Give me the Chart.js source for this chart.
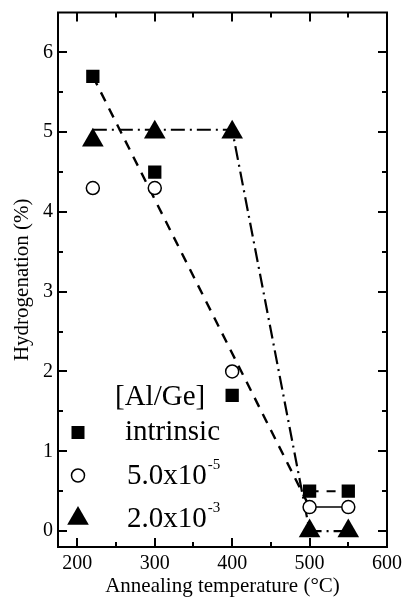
<!DOCTYPE html>
<html><head><meta charset="utf-8">
<script src="https://cdn.jsdelivr.net/npm/chart.js@4/dist/chart.umd.min.js"></script>
<style>html,body{margin:0;padding:0;background:#fff;}canvas{display:block;}</style>
</head><body>
<canvas id="c" width="402" height="601"></canvas>
<script>
// ---- data ----
const temperatures = [220, 300, 400, 500, 550];
const intrinsic = [5.7, 4.5, 1.7, 0.5, 0.5];
const alGe5e5 = [4.3, 4.3, 2.0, 0.3, 0.3];
const alGe2e3 = [4.9, 5.0, 5.0, 0.0, 0.0];
const dashedGuideX = [220, 500];
const dashedGuideY = [5.7, 0.3];
const dashDotGuideX = [220, 400, 500, 550];
const dashDotGuideY = [5.03, 5.03, 0, 0];
const tailX = [500, 550];
const intrinsicTail = [0.5, 0.5];
const alGe5e5Tail = [0.3, 0.3];
const xTicks = [200, 300, 400, 500, 600];
const xMinorTicks = [250, 350, 450, 550];
const yTicks = [0, 1, 2, 3, 4, 5, 6];
const yMinorTicks = [0.5, 1.5, 2.5, 3.5, 4.5, 5.5];
const legendTitle = '[Al/Ge]';
const legendNames = ['intrinsic', '5.0x10', '2.0x10'];
const legendExponents = ['', '-5', '-3'];
const xTitle = 'Annealing temperature (\u00B0C)';
const yTitle = 'Hydrogenation (%)';

const zip = (xs, ys) => xs.map((x, i) => ({x: x, y: ys[i]}));
const FONT = '"Liberation Serif", "Times New Roman", serif';

const framePlugin = {
  id: 'frame',
  beforeDatasetsDraw(chart) {
    const {ctx, chartArea: a, scales: {x, y}} = chart;
    ctx.save();
    ctx.strokeStyle = '#000';
    ctx.lineWidth = 2;
    ctx.strokeRect(a.left, a.top, a.right - a.left, a.bottom - a.top);
    ctx.beginPath();
    const xt = (vals, len) => vals.forEach(v => {
      const px = Math.round(x.getPixelForValue(v));
      ctx.moveTo(px, a.bottom); ctx.lineTo(px, a.bottom - len);
      ctx.moveTo(px, a.top); ctx.lineTo(px, a.top + len);
    });
    const yt = (vals, len) => vals.forEach(v => {
      const py = Math.round(y.getPixelForValue(v));
      ctx.moveTo(a.left, py); ctx.lineTo(a.left + len, py);
      ctx.moveTo(a.right, py); ctx.lineTo(a.right - len, py);
    });
    xt(xTicks, 9); xt(xMinorTicks, 5);
    yt(yTicks, 9); yt(yMinorTicks, 5);
    ctx.stroke();
    ctx.restore();
  }
};

const legendPlugin = {
  id: 'customLegend',
  afterDraw(chart) {
    const {ctx, chartArea: a} = chart;
    const L = a.left, T = a.top;
    ctx.save();
    ctx.fillStyle = '#000';
    ctx.strokeStyle = '#000';
    ctx.textBaseline = 'alphabetic';
    ctx.textAlign = 'left';
    ctx.font = '29px ' + FONT;
    ctx.fillText(legendTitle, L + 57, T + 392);
    const rowBase = [427, 471, 514];
    const markX = L + 20;
    const markY = [420, 463, 506];
    // square
    ctx.fillRect(markX - 6.5, T + markY[0] - 6.5, 13, 13);
    // circle
    ctx.beginPath();
    ctx.lineWidth = 1.5;
    ctx.arc(markX, T + markY[1], 6.5, 0, Math.PI * 2);
    ctx.fillStyle = '#fff'; ctx.fill();
    ctx.stroke();
    ctx.fillStyle = '#000';
    // triangle
    const r = 12.5, cy = T + markY[2];
    ctx.beginPath();
    ctx.moveTo(markX, cy - r);
    ctx.lineTo(markX + r * Math.sin(Math.PI / 3), cy + r / 2);
    ctx.lineTo(markX - r * Math.sin(Math.PI / 3), cy + r / 2);
    ctx.closePath(); ctx.fill();
    const textX = [L + 67, L + 69, L + 69];
    legendNames.forEach((n, i) => {
      ctx.font = '29px ' + FONT;
      ctx.fillText(n, textX[i], T + rowBase[i]);
      if (legendExponents[i]) {
        const w = ctx.measureText(n).width;
        ctx.font = '15px ' + FONT;
        ctx.fillText(legendExponents[i], textX[i] + w + 1, T + rowBase[i] - 15);
      }
    });
    ctx.restore();
  }
};

const common = {showLine: false, borderColor: '#000', order: 0};
new Chart(document.getElementById('c'), {
  type: 'scatter',
  data: {
    datasets: [
      Object.assign({label: 'intrinsic', data: zip(temperatures, intrinsic), pointStyle: 'rect', pointRadius: 9.4, backgroundColor: '#000', borderWidth: 0}, common),
      Object.assign({label: '5.0x10-5', data: zip(temperatures, alGe5e5), pointStyle: 'circle', pointRadius: 6.5, backgroundColor: '#fff', borderWidth: 1.5}, common),
      Object.assign({label: '2.0x10-3', data: zip(temperatures, alGe2e3), pointStyle: 'triangle', pointRadius: 12.5, backgroundColor: '#000', borderWidth: 0}, common),
      {label: 'dashed', data: zip(dashedGuideX, dashedGuideY), showLine: true, pointRadius: 0, borderColor: '#000', borderWidth: 2.4, borderDash: [10, 8], order: 1},
      {label: 'dashdot', data: zip(dashDotGuideX, dashDotGuideY), showLine: true, pointRadius: 0, borderColor: '#000', borderWidth: 2.2, borderDash: [14, 5, 2, 5], order: 1},
      {label: 'tail1', data: zip(tailX, intrinsicTail), showLine: true, pointRadius: 0, borderColor: '#000', borderWidth: 2, borderDash: [9, 8], order: 1},
      {label: 'tail2', data: zip(tailX, alGe5e5Tail), showLine: true, pointRadius: 0, borderColor: '#000', borderWidth: 1.5, order: 1}
    ]
  },
  options: {
    responsive: false,
    animation: false,
    devicePixelRatio: 1,
    events: [],
    layout: {padding: {top: 11, right: 15, left: 0, bottom: 0}},
    plugins: {legend: {display: false}, tooltip: {enabled: false}},
    scales: {
      x: {
        type: 'linear', min: 175, max: 600,
        afterBuildTicks: s => { s.ticks = xTicks.map(v => ({value: v})); },
        afterFit: s => { s.height = 54; s.paddingLeft = 0; s.paddingRight = 0; s.paddingTop = 0; s.paddingBottom = 0; },
        grid: {display: false, drawTicks: false},
        border: {display: false},
        ticks: {color: '#000', padding: 5, font: {family: FONT, size: 20}},
        title: {display: true, text: xTitle, color: '#000', font: {family: FONT, size: 21}, padding: {top: 0, bottom: 2.4}}
      },
      y: {
        type: 'linear', min: -0.2, max: 6.5,
        afterBuildTicks: s => { s.ticks = yTicks.map(v => ({value: v})); },
        afterFit: s => { s.width = 58; s.paddingLeft = 0; s.paddingRight = 0; s.paddingTop = 0; s.paddingBottom = 0; },
        grid: {display: false, drawTicks: false},
        border: {display: false},
        ticks: {color: '#000', padding: 5, font: {family: FONT, size: 20}},
        title: {display: true, text: yTitle, color: '#000', font: {family: FONT, size: 21}, padding: {top: 9.4, bottom: 0}}
      }
    }
  },
  plugins: [framePlugin, legendPlugin]
});
</script>
</body></html>
